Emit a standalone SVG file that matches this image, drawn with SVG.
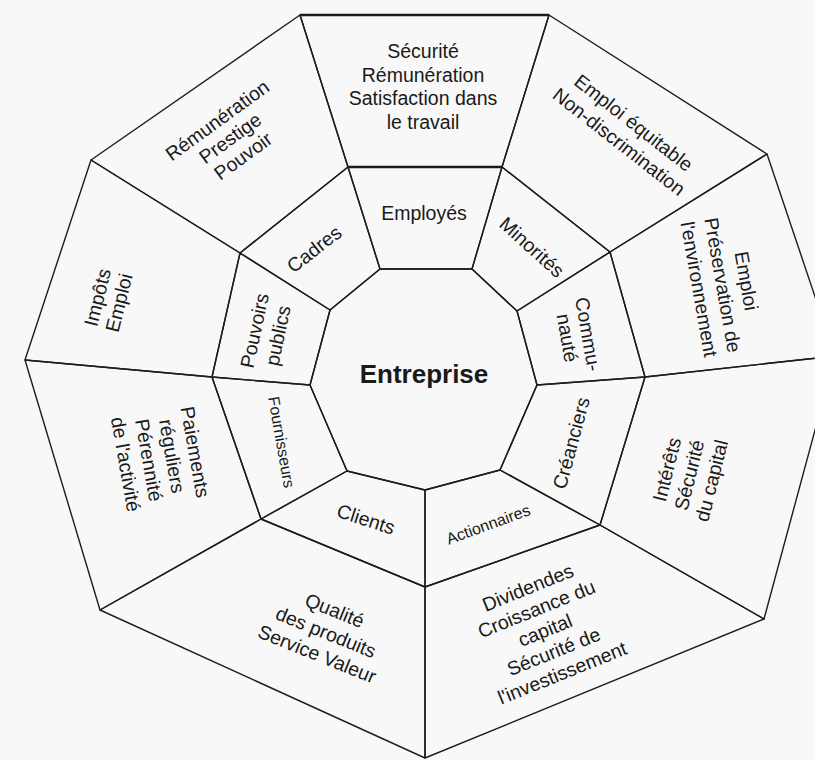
<svg xmlns="http://www.w3.org/2000/svg" width="815" height="760" viewBox="0 0 815 760">
<style>
.cell{fill:none;stroke:#1d1d1d;stroke-width:1.4;stroke-linejoin:round}
.thick{fill:none;stroke:#1d1d1d;stroke-width:2.6}
.t{font-family:"Liberation Sans",Arial,Helvetica,sans-serif;font-size:19.5px;fill:#1a1a1a;text-anchor:middle}
.s{font-size:16px}
.b{font-weight:bold;font-size:26px}
</style>
<rect width="815" height="760" fill="#f8f8f8"/>
<g id="connectors">
<line class="thick" x1="300" y1="15" x2="549" y2="15"/>
<line class="thick" x1="348" y1="167" x2="502" y2="167"/>
</g>
<g id="entreprise">
<polygon class="cell" points="380,269 472,269 517,311 537,385 500,470 425,490 347,471 310,385 330,310"/>
<text class="t b" x="424" y="383">Entreprise</text>
</g>
<g id="employes">
<polygon class="cell" points="348,167 502,167 472,269 380,269"/>
<text class="t" x="424" y="220">Employés</text>
</g>
<g id="minorites">
<polygon class="cell" points="502,167 610,252 517,311 472,269"/>
<text class="t" transform="translate(532,247) rotate(42)" y="7">Minorités</text>
</g>
<g id="communaute">
<polygon class="cell" points="610,252 645,377 537,385 517,311"/>
<text class="t" transform="translate(578,336) rotate(80)"><tspan x="0" y="-3.5">Commu-</tspan><tspan x="0" y="17.5">nauté</tspan></text>
</g>
<g id="creanciers">
<polygon class="cell" points="645,377 600,525 500,470 537,385"/>
<text class="t" transform="translate(571,443) rotate(-75)" y="7">Créanciers</text>
</g>
<g id="actionnaires">
<polygon class="cell" points="600,525 425,587 425,490 500,470"/>
<text class="t s" transform="translate(488,524) rotate(-20)" y="6">Actionnaires</text>
</g>
<g id="clients">
<polygon class="cell" points="425,587 261,519 347,471 425,490"/>
<text class="t" transform="translate(366,519) rotate(18)" y="7">Clients</text>
</g>
<g id="fournisseurs">
<polygon class="cell" points="261,519 212,377 310,385 347,471"/>
<text class="t s" transform="translate(282,442) rotate(80)" y="6">Fournisseurs</text>
</g>
<g id="pouvoirs-publics">
<polygon class="cell" points="212,377 240,253 330,310 310,385"/>
<text class="t" transform="translate(266,333) rotate(-78)"><tspan x="0" y="-5">Pouvoirs</tspan><tspan x="0" y="19">publics</tspan></text>
</g>
<g id="cadres">
<polygon class="cell" points="240,253 348,167 380,269 330,310"/>
<text class="t" transform="translate(314,249) rotate(-38)" y="7">Cadres</text>
</g>
<g id="attentes-employes">
<polygon class="cell" points="300,15 549,15 502,167 348,167"/>
<text class="t"><tspan x="423" y="58">Sécurité</tspan><tspan x="423" y="81.5">Rémunération</tspan><tspan x="423" y="105">Satisfaction dans</tspan><tspan x="423" y="128.5">le travail</tspan></text>
</g>
<g id="attentes-minorites">
<polygon class="cell" points="549,15 767,154 610,252 502,167"/>
<text class="t" transform="translate(626.5,132) rotate(38)"><tspan x="0" y="-5">Emploi équitable</tspan><tspan x="0" y="19">Non-discrimination</tspan></text>
</g>
<g id="attentes-communaute">
<polygon class="cell" points="767,154 835,356 645,377 610,252"/>
<text class="t" transform="translate(723,285) rotate(80)"><tspan x="0" y="-17">Emploi</tspan><tspan x="0" y="7">Préservation de</tspan><tspan x="0" y="31">l'environnement</tspan></text>
</g>
<g id="attentes-creanciers">
<polygon class="cell" points="835,356 764,619 600,525 645,377"/>
<text class="t" transform="translate(689,475) rotate(-76)"><tspan x="0" y="-16">Intérêts</tspan><tspan x="0" y="7">Sécurité</tspan><tspan x="0" y="30">du capital</tspan></text>
</g>
<g id="attentes-actionnaires">
<polygon class="cell" points="764,619 425,758 425,587 600,525"/>
<text class="t" transform="translate(545,630) rotate(-22)"><tspan x="0" y="-39">Dividendes</tspan><tspan x="0" y="-16">Croissance du</tspan><tspan x="0" y="7">capital</tspan><tspan x="0" y="30">Sécurité de</tspan><tspan x="0" y="53">l'investissement</tspan></text>
</g>
<g id="attentes-clients">
<polygon class="cell" points="425,758 100,610 261,519 425,587"/>
<text class="t" transform="translate(326,632) rotate(22)"><tspan x="0" y="-16.5">Qualité</tspan><tspan x="0" y="7">des produits</tspan><tspan x="0" y="30.5">Service Valeur</tspan></text>
</g>
<g id="attentes-fournisseurs">
<polygon class="cell" points="100,610 25,360 212,377 261,519"/>
<text class="t" transform="translate(161,458) rotate(80)"><tspan x="0" y="-28">Paiements</tspan><tspan x="0" y="-4.5">réguliers</tspan><tspan x="0" y="19">Pérennité</tspan><tspan x="0" y="42.5">de l'activité</tspan></text>
</g>
<g id="attentes-pouvoirs-publics">
<polygon class="cell" points="25,360 91,160 240,253 212,377"/>
<text class="t" transform="translate(108,300) rotate(-76)"><tspan x="0" y="-4">Impôts</tspan><tspan x="0" y="18">Emploi</tspan></text>
</g>
<g id="attentes-cadres">
<polygon class="cell" points="91,160 300,15 348,167 240,253"/>
<text class="t" transform="translate(230,138) rotate(-36)"><tspan x="0" y="-15">Rémunération</tspan><tspan x="0" y="7">Prestige</tspan><tspan x="0" y="29">Pouvoir</tspan></text>
</g>
</svg>
